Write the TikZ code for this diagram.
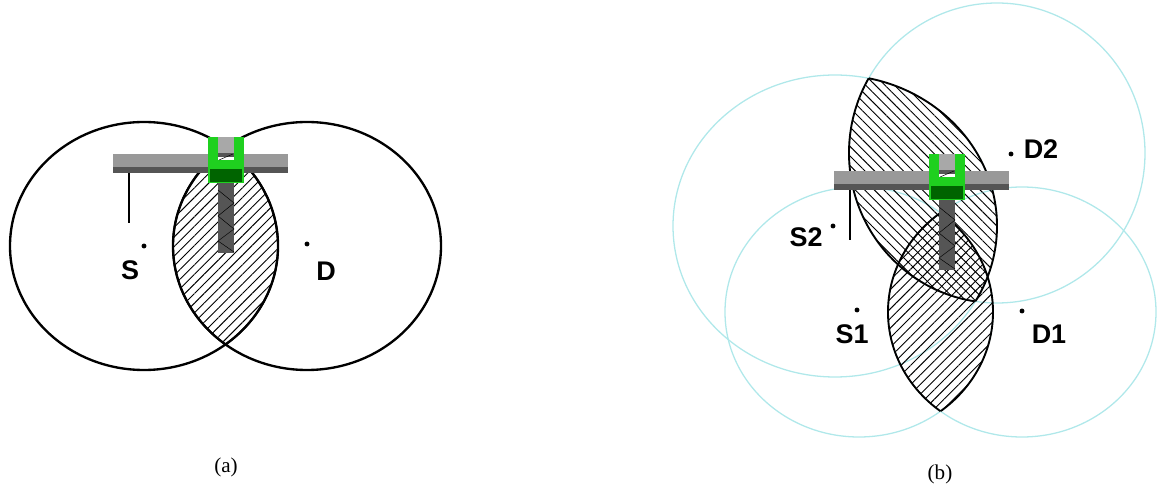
\documentclass[tikz,border=0pt]{standalone}
\usepackage{fontspec}
\setmainfont{Liberation Serif}
\setsansfont{Liberation Sans}
\usepackage{xcolor}
\usetikzlibrary{patterns.meta}
\definecolor{ringcyan}{HTML}{B0E8EA}
\definecolor{barlight}{HTML}{999999}
\definecolor{bardark}{HTML}{555555}
\definecolor{clipgreen}{HTML}{1FD01F}
\definecolor{clipdark}{HTML}{006400}
\tikzset{
  ring/.style={line width=2pt,black},
  faintring/.style={line width=1.1pt,ringcyan},
  lensedge/.style={line width=1.6pt,black},
  hatchup/.style={pattern={Lines[angle=45,distance=5.8pt,line width=0.8pt]}},
  hatchdown/.style={pattern={Lines[angle=-45,distance=5.8pt,line width=0.8pt]}},
  spot/.style={circle,fill=black,inner sep=0pt,minimum size=4.2pt},
  tag/.style={font=\sffamily\bfseries\fontsize{23}{23}\selectfont},
  caption/.style={font=\fontsize{18}{18}\selectfont}
}
\newcommand{\lens}[5]{%
  % #1,#2 centres; #3,#4 radii; #5 hatch style
  \begin{scope}
    \clip (#1) ellipse (#3);
    \clip (#2) ellipse (#4);
    \fill[#5] (#1) ellipse (#3);
  \end{scope}
  \begin{scope}
    \clip (#2) ellipse (#4);
    \draw[lensedge] (#1) ellipse (#3);
  \end{scope}
  \begin{scope}
    \clip (#1) ellipse (#3);
    \draw[lensedge] (#2) ellipse (#4);
  \end{scope}
}
\begin{document}
\begin{tikzpicture}[x=0.03cm,y=-0.03cm]
  \useasboundingbox (0,0) rectangle (1168,488);

  % Centres of the rings
  \coordinate (CS) at (144,246);
  \coordinate (CD) at (307,246);
  \coordinate (CSa) at (859,312);
  \coordinate (CDa) at (1022,312);
  \coordinate (CSb) at (835,226);
  \coordinate (CDb) at (997,153);

  % Part (a)
  \lens{CS}{CD}{134 and 124}{134 and 124}{hatchup}
  \draw[ring] (CS) ellipse (134 and 124);
  \draw[ring] (CD) ellipse (134 and 124);

  % Part (b)
  \draw[faintring] (CSa) ellipse (134 and 125);
  \draw[faintring] (CDa) ellipse (134 and 125);
  \draw[faintring] (CSb) ellipse (162 and 151);
  \draw[faintring] (CDb) ellipse (148 and 150);
  \lens{CSa}{CDa}{134 and 125}{134 and 125}{hatchup}
  \lens{CSb}{CDb}{162 and 151}{148 and 150}{hatchdown}

  % Bar, clip and stem, same shape in both parts
  \foreach \dx/\dy in {0/0,721/17} {
    \begin{scope}[shift={(\dx,\dy)}]
      \fill[bardark] (113,167) rectangle (288,173);
      \fill[barlight] (113,154) rectangle (288,167.5);
      \draw[line width=1.5pt] (129,173) -- (129,223);
      \fill[bardark] (218,183) rectangle (234,253);
      \draw[line width=0.4pt] (218,190) -- (234,203) -- (218,216) -- (234,229)
        -- (218,241) -- (234,252);
      \fill[clipgreen] (208,137) rectangle (244,183);
      \fill[white] (218,137) rectangle (234,160);
      \fill[barlight!85] (218,137) rectangle (234,153);
      \fill[bardark] (218,153) rectangle (234,157);
      \draw[line width=0.4pt] (219,160) -- (233,154);
      \fill[clipdark] (210,169) rectangle (242,182);
    \end{scope}
  }

  % Points
  \node[spot] (S) at (144,246) {};
  \node[spot] (D) at (307,244) {};
  \node[spot] (Sa) at (857,310) {};
  \node[spot] (Da) at (1022,311) {};
  \node[spot] (Sb) at (833,226) {};
  \node[spot] (Db) at (1011,154) {};

  % Labels
  \node[tag] (lS) at (130,270) {S};
  \node[tag] (lD) at (326,271) {D};
  \node[tag] (lSa) at (852,334) {S1};
  \node[tag] (lDa) at (1049,334) {D1};
  \node[tag] (lSb) at (806,237) {S2};
  \node[tag] (lDb) at (1041,149) {D2};
  \node[caption] (capa) at (226,467) {(a)};
  \node[caption] (capb) at (940,474) {(b)};
\end{tikzpicture}
\end{document}
